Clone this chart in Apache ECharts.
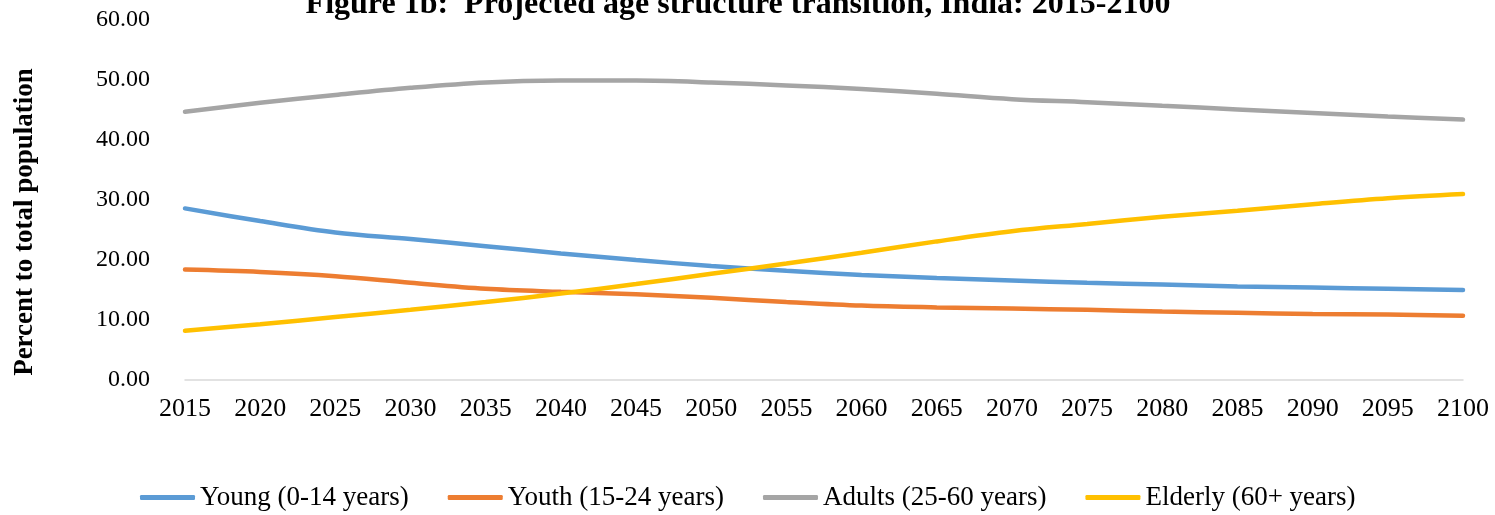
<!DOCTYPE html>
<html>
<head>
<meta charset="utf-8">
<script src="https://cdn.jsdelivr.net/npm/echarts@6/dist/echarts.min.js"></script>
<style>
    html, body { margin: 0; padding: 0; background: #fff; }
    #chart { width: 1495px; height: 515px; }
</style>
</head>
<body>
<div id="chart"></div>
<script>
let years = ['2015', '2020', '2025', '2030', '2035', '2040', '2045', '2050', '2055',
    '2060', '2065', '2070', '2075', '2080', '2085', '2090', '2095', '2100'];
let young = [28.6, 26.5, 24.6, 23.5, 22.3, 21.1, 20.0, 19.0, 18.2, 17.5, 17.0, 16.6, 16.2, 15.9, 15.6, 15.4, 15.2, 15.0];
let youth = [18.4, 18.0, 17.3, 16.2, 15.2, 14.7, 14.3, 13.7, 13.0, 12.4, 12.1, 11.9, 11.7, 11.4, 11.2, 11.0, 10.9, 10.7];
let adults = [44.7, 46.2, 47.5, 48.7, 49.6, 49.9, 49.9, 49.6, 49.1, 48.5, 47.7, 46.8, 46.3, 45.7, 45.1, 44.5, 43.9, 43.4];
let elderly = [8.2, 9.3, 10.5, 11.7, 13.0, 14.4, 16.0, 17.7, 19.4, 21.2, 23.1, 24.8, 26.0, 27.2, 28.2, 29.3, 30.3, 31.0];
let seriesNames = ['Young (0-14 years)', 'Youth (15-24 years)', 'Adults (25-60 years)', 'Elderly (60+ years)'];
let seriesColors = ['#5B9BD5', '#ED7D31', '#A5A5A5', '#FFC000'];

const FONT = 'Liberation Serif';

function makeLine(name, data, color) {
    return {
        name: name,
        type: 'line',
        data: data,
        smooth: 0.35,
        symbol: 'none',
        lineStyle: { width: 4.5, color: color, cap: 'round' },
        itemStyle: { color: color }
    };
}
// ----------------------------------------------------
let chart = echarts.init(document.getElementById('chart'));
let option = {
    animation: false,
    textStyle: { fontFamily: FONT, color: '#000' },
    graphic: [
        {
            type: 'text',
            x: 738, y: 5,
            style: {
                text: 'Figure 1b:  Projected age structure transition, India: 2015-2100',
                font: 'bold 32px "Liberation Serif"',
                fill: '#000',
                align: 'center',
                verticalAlign: 'middle'
            }
        },
        {
            type: 'text',
            x: 25, y: 222,
            rotation: Math.PI / 2,
            style: {
                text: 'Percent to total population',
                font: 'bold 27px "Liberation Serif"',
                fill: '#000',
                align: 'center',
                verticalAlign: 'middle'
            }
        }
    ],
    legend: {
        data: seriesNames.map(function (n) { return { name: n, icon: 'roundRect' }; }),
        left: 140,
        top: 484,
        padding: 0,
        itemWidth: 55,
        itemHeight: 5,
        itemGap: 39,
        textStyle: { fontFamily: FONT, fontSize: 27, color: '#000' }
    },
    grid: { left: 185, right: 32, top: 20, bottom: 135 },
    xAxis: {
        type: 'category',
        boundaryGap: false,
        data: years,
        axisLine: { lineStyle: { color: '#d9d9d9', width: 1.5 } },
        axisTick: { show: false },
        axisLabel: { fontFamily: FONT, fontSize: 26, color: '#000', margin: 16 }
    },
    yAxis: {
        type: 'value',
        min: 0, max: 60, interval: 10,
        splitLine: { show: false },
        axisLine: { show: false },
        axisTick: { show: false },
        axisLabel: {
            fontFamily: FONT, fontSize: 24, color: '#000', margin: 35,
            formatter: function (v) { return v.toFixed(2); }
        }
    },
    series: [
        makeLine(seriesNames[0], young, seriesColors[0]),
        makeLine(seriesNames[1], youth, seriesColors[1]),
        makeLine(seriesNames[2], adults, seriesColors[2]),
        makeLine(seriesNames[3], elderly, seriesColors[3])
    ]
};

chart.setOption(option);
</script>
</body>
</html>
